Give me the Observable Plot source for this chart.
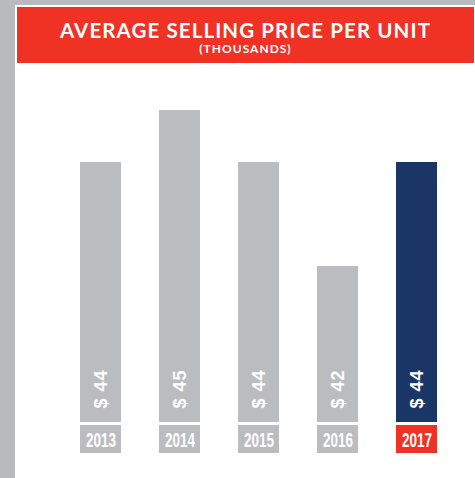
<!DOCTYPE html>
<html>
<head>
<meta charset="utf-8">
<script src="https://cdn.jsdelivr.net/npm/d3@7"></script>
<script src="https://cdn.jsdelivr.net/npm/@observablehq/plot@0.6"></script>
<style>
  html, body { margin: 0; padding: 0; background: #fff; }
  #page { position: relative; width: 475px; height: 478px; overflow: hidden; background: #fff; }
  #topStrip { position: absolute; left: 0; top: 0; width: 475px; height: 5px; background: #B9BABD; }
  #leftStrip { position: absolute; left: 0; top: 0; width: 15px; height: 478px; background: #B9BABD; }
  #banner { position: absolute; left: 17px; top: 7px; width: 457px; height: 56px; background: #EF3224; color: #fff; text-align: center; font-family: Lato, "Open Sans", sans-serif; font-weight: 700; }
  #title { position: absolute; left: 0; right: 0; top: 12px; font-size: 20.5px; line-height: 22px; letter-spacing: 1.1px; }
  #subtitle { position: absolute; left: 0; right: 0; top: 35px; font-size: 12px; line-height: 13px; letter-spacing: 1px; }
  #chart { position: absolute; left: 0; top: 63px; }
  #years { position: absolute; left: 0; top: 425px; }
</style>
</head>
<body>
<div id="page">
  <div id="topStrip"></div>
  <div id="leftStrip"></div>
  <div id="banner">
    <div id="title">AVERAGE SELLING PRICE PER UNIT</div>
    <div id="subtitle">(THOUSANDS)</div>
  </div>
  <div id="chart"></div>
  <div id="years"></div>
</div>
<script>
const years = ["2013", "2014", "2015", "2016", "2017"];
const prices = [44, 45, 44, 42, 44];
const highlightYear = "2017";
const yDomain = [39, 45];

const data = years.map((year, i) => ({year, price: prices[i], label: "$ " + prices[i]}));

const barGray = "#BBBCBF";
const navy = "#1A3667";
const red = "#EF3224";

const xOpts = {domain: years, padding: 0.483, axis: null};

const chart = Plot.plot({
  width: 475,
  height: 359,
  marginLeft: 41,
  marginRight: 0,
  marginTop: 47,
  marginBottom: 0,
  x: xOpts,
  y: {domain: yDomain, axis: null},
  marks: [
    Plot.barY(data, {x: "year", y1: yDomain[0], y2: "price", fill: d => d.year === highlightYear ? navy : barGray}),
    Plot.text(data, {
      x: "year",
      text: "label",
      frameAnchor: "bottom",
      rotate: -90,
      textAnchor: "start",
      lineAnchor: "middle",
      dy: -14,
      fill: "white",
      fontSize: 18,
      fontWeight: 700,
      fontFamily: "'Liberation Sans', Arial, sans-serif"
    })
  ]
});
chart.querySelectorAll("text").forEach(t => t.setAttribute("letter-spacing", "1"));
document.getElementById("chart").appendChild(chart);

const yearRow = Plot.plot({
  width: 475,
  height: 28,
  marginLeft: 41,
  marginRight: 0,
  marginTop: 0,
  marginBottom: 0,
  x: xOpts,
  y: {axis: null},
  marks: [
    Plot.barY(data, {x: "year", fill: d => d.year === highlightYear ? red : barGray}),
    Plot.text(data, {
      x: "year",
      text: "year",
      frameAnchor: "middle",
      dy: 1,
      fill: "white",
      fontSize: 20,
      fontWeight: 700,
      fontFamily: "'Liberation Sans', Arial, sans-serif"
    })
  ]
});
yearRow.querySelectorAll("text").forEach(t => {
  t.setAttribute("textLength", "30");
  t.setAttribute("lengthAdjust", "spacingAndGlyphs");
});
document.getElementById("years").appendChild(yearRow);
</script>
</body>
</html>
